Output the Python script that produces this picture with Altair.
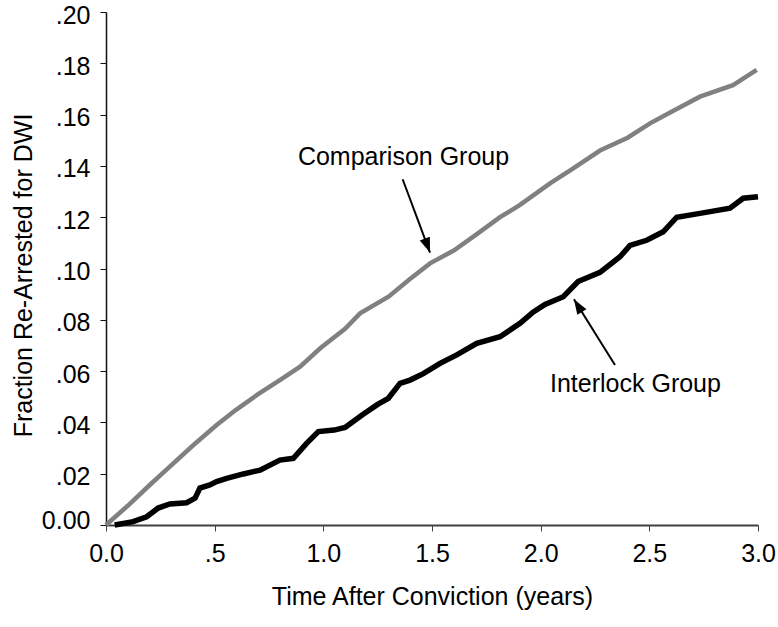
import math

import altair as alt
import pandas as pd

# Cumulative fraction re-arrested for DWI, by years since conviction
comparison_years = [0.0, 0.1, 0.2, 0.276, 0.4, 0.509, 0.6, 0.7, 0.8, 0.893, 0.987,
                    1.1, 1.169, 1.3, 1.4, 1.491, 1.6, 1.7, 1.813, 1.905, 2.043,
                    2.15, 2.273, 2.4, 2.503, 2.6, 2.733, 2.885, 2.994]
comparison_frac = [0.0, 0.0075, 0.0155, 0.0214, 0.031, 0.039, 0.045, 0.051, 0.0565,
                   0.0617, 0.069, 0.0765, 0.0825, 0.089, 0.096, 0.102, 0.107, 0.113,
                   0.120, 0.1248, 0.1332, 0.139, 0.146, 0.151, 0.1566, 0.161, 0.167,
                   0.1715, 0.1774]

interlock_years = [0.04, 0.125, 0.187, 0.24, 0.294, 0.371, 0.41, 0.432, 0.478, 0.509,
                   0.555, 0.632, 0.709, 0.80, 0.862, 0.923, 0.977, 1.05, 1.1, 1.18,
                   1.25, 1.299, 1.353, 1.399, 1.46, 1.537, 1.614, 1.706, 1.813, 1.905,
                   1.965, 2.02, 2.104, 2.172, 2.273, 2.365, 2.411, 2.488, 2.564, 2.626,
                   2.733, 2.871, 2.932, 3.0]
interlock_frac = [0.0, 0.0013, 0.0032, 0.0066, 0.0082, 0.0087, 0.0105, 0.0144, 0.0156,
                  0.0169, 0.0182, 0.0199, 0.0214, 0.0253, 0.026, 0.0318, 0.0364, 0.037,
                  0.038, 0.043, 0.047, 0.0494, 0.0552, 0.0565, 0.059, 0.063, 0.0663,
                  0.0708, 0.0734, 0.0786, 0.083, 0.086, 0.089, 0.0949, 0.0985, 0.1046,
                  0.109, 0.111, 0.1143, 0.120, 0.1215, 0.1235, 0.1274, 0.128]

x_ticks = [0.0, 0.5, 1.0, 1.5, 2.0, 2.5, 3.0]
y_ticks = [0.0, 0.02, 0.04, 0.06, 0.08, 0.10, 0.12, 0.14, 0.16, 0.18, 0.20]

# Callout labels and their arrows (data units)
label_text = ["Comparison Group", "Interlock Group"]
label_x = [0.883, 2.043]
label_y = [0.1403, 0.0519]
arrow_x1 = [1.365, 2.342]
arrow_y1 = [0.1348, 0.0624]
arrow_x2 = [1.491, 2.153]
arrow_y2 = [0.1062, 0.088]

W, H = 652, 513
X_DOMAIN = [0.0, 3.0]
Y_DOMAIN = [0.0, 0.20]
FONT = "Liberation Sans"

comp_df = pd.DataFrame({"t": comparison_years, "f": comparison_frac})
intl_df = pd.DataFrame({"t": interlock_years, "f": interlock_frac})
label_df = pd.DataFrame({"x": label_x, "y": label_y, "text": label_text})


def head_angle(x1, y1, x2, y2):
    # screen-space direction of the arrow, clockwise from "up"
    dx = (x2 - x1) / (X_DOMAIN[1] - X_DOMAIN[0]) * W
    dy = -(y2 - y1) / (Y_DOMAIN[1] - Y_DOMAIN[0]) * H
    return math.degrees(math.atan2(dx, -dy)) % 360


arrow_df = pd.DataFrame({
    "x1": arrow_x1, "y1": arrow_y1, "x2": arrow_x2, "y2": arrow_y2,
    "angle": [head_angle(a, b, c, d) for a, b, c, d in
              zip(arrow_x1, arrow_y1, arrow_x2, arrow_y2)],
})

xs = alt.Scale(domain=X_DOMAIN, nice=False, zero=False)
ys = alt.Scale(domain=Y_DOMAIN, nice=False)

x_axis = alt.Axis(
    values=x_ticks,
    labelExpr="datum.value == 0 ? '0.0' : (datum.value < 1 ? substring(format(datum.value, '.1f'), 1) : format(datum.value, '.1f'))",
    title="Time After Conviction (years)",
    grid=False, domainColor="#404040", domainWidth=2,
    tickColor="#404040", tickWidth=1, tickSize=6,
    labelFont=FONT, labelFontSize=25, labelColor="black", labelPadding=10,
    titleFont=FONT, titleFontSize=25, titleColor="black", titleFontWeight="normal",
    titlePadding=18, labelFlush=False, labelOverlap=False,
)
y_axis = alt.Axis(
    values=y_ticks,
    labelExpr="datum.value == 0 ? '0.00' : substring(format(datum.value, '.2f'), 1)",
    labelBaseline={"condition": {"test": "datum.value == 0", "value": "alphabetic"},
                   "value": "middle"},
    labelOffset=3,
    title="Fraction Re-Arrested for DWI",
    grid=False, domainColor="#111111", domainWidth=1.5,
    tickColor="#111111", tickWidth=1, tickSize=6,
    labelFont=FONT, labelFontSize=25, labelColor="black", labelPadding=10,
    titleFont=FONT, titleFontSize=25, titleColor="black", titleFontWeight="normal",
    titlePadding=5, titleY=263, labelFlush=False, labelOverlap=False,
)

comp_line = alt.Chart(comp_df).mark_line(color="#808080", strokeWidth=4.5).encode(
    x=alt.X("t:Q", scale=xs, axis=x_axis),
    y=alt.Y("f:Q", scale=ys, axis=y_axis),
)
intl_line = alt.Chart(intl_df).mark_line(color="black", strokeWidth=5.5).encode(
    x=alt.X("t:Q", scale=xs),
    y=alt.Y("f:Q", scale=ys),
)

shafts = alt.Chart(arrow_df).mark_rule(color="black", strokeWidth=2).encode(
    x=alt.X("x1:Q", scale=xs), y=alt.Y("y1:Q", scale=ys),
    x2="x2:Q", y2="y2:Q",
)
heads = alt.Chart(arrow_df).mark_point(
    shape="M0,0L0.36,1L-0.36,1Z", filled=True, size=900,
    color="black", opacity=1, strokeWidth=0,
).encode(
    x=alt.X("x2:Q", scale=xs), y=alt.Y("y2:Q", scale=ys),
    angle=alt.Angle("angle:Q", scale=None),
)

labels = alt.Chart(label_df).mark_text(
    align="left", baseline="alphabetic", font=FONT, fontSize=25, color="black",
).encode(
    x=alt.X("x:Q", scale=xs), y=alt.Y("y:Q", scale=ys), text="text:N",
)

chart = alt.layer(comp_line, intl_line, shafts, heads, labels).properties(
    width=W, height=H,
    autosize=alt.AutoSizeParams(type="none"),
    padding={"left": 106, "top": 12, "right": 20, "bottom": 102},
    background="white",
).configure_view(stroke=None)

chart.save("out.html", embed_options={"renderer": "svg", "actions": False})
